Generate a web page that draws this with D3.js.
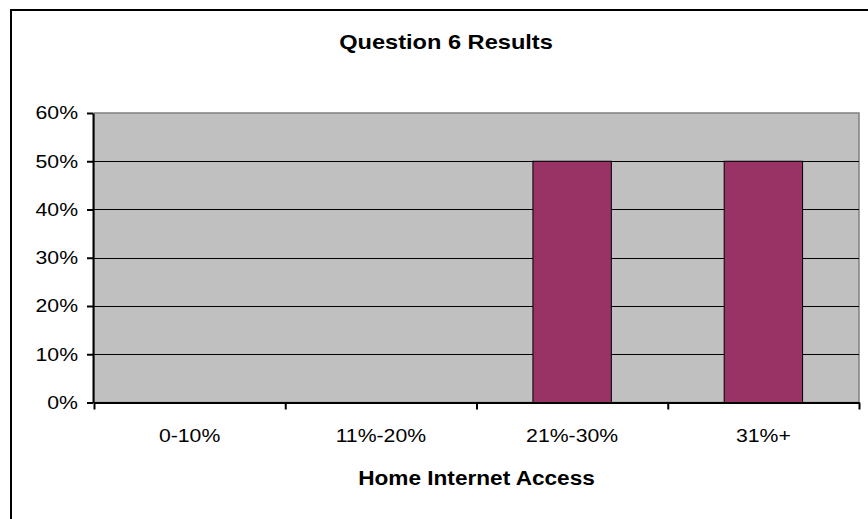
<!DOCTYPE html>
<html>
<head>
<meta charset="utf-8">
<script src="https://cdn.jsdelivr.net/npm/d3@7"></script>
<style>
  body { margin: 0; background: #fff; }
  text { font-family: Arial, "Liberation Sans", sans-serif; fill: #000; }
</style>
</head>
<body>
<div id="chart"></div>
<script>
// data
var categories = ["0-10%", "11%-20%", "21%-30%", "31%+"];
var values = [0, 0, 0.5, 0.5];
var yTicks = [0, 0.1, 0.2, 0.3, 0.4, 0.5, 0.6];
var chartTitle = "Question 6 Results";
var xTitle = "Home Internet Access";

var W = 868, H = 519;
var margin = {top: 113, right: 9, bottom: 116.5, left: 94},
    width = W - margin.left - margin.right,
    height = H - margin.top - margin.bottom;

// the text in the picture is drawn a bit wider than normal
var stretch = 1.18;

var svg = d3.select("#chart")
  .append("svg")
    .attr("width", W)
    .attr("height", H);

// outer chart border (runs off the right and bottom)
svg.append("rect")
  .attr("x", 11).attr("y", 10)
  .attr("width", 870).attr("height", 540)
  .attr("fill", "#fff")
  .attr("stroke", "#000")
  .attr("stroke-width", 2);

var g = svg.append("g")
  .attr("transform", "translate(" + margin.left + "," + margin.top + ")");

var x = d3.scaleBand()
  .domain(categories)
  .range([0, width])
  .paddingInner(0.59)
  .paddingOuter(0.295);

var xb = d3.scaleLinear()
  .domain([0, categories.length])
  .range([0, width]);

var y = d3.scaleLinear()
  .domain([0, 0.6])
  .range([height, 0]);

// plot area
g.append("rect")
  .attr("width", width)
  .attr("height", height)
  .attr("fill", "#c0c0c0")
  .attr("stroke", "#808080")
  .attr("stroke-width", 1.5);

// gridlines
g.selectAll(".grid")
  .data(yTicks.filter(function(d) { return d > 0 && d < 0.6; }))
  .enter()
  .append("line")
    .attr("x1", 0).attr("x2", width)
    .attr("y1", function(d) { return Math.round(y(d)) + 0.5; })
    .attr("y2", function(d) { return Math.round(y(d)) + 0.5; })
    .attr("stroke", "#000")
    .attr("stroke-width", 1);

// bars
g.selectAll(".bar")
  .data(values)
  .enter()
  .append("rect")
    .attr("x", function(d, i) { return x(categories[i]); })
    .attr("y", function(d) { return y(d); })
    .attr("width", x.bandwidth())
    .attr("height", function(d) { return height - y(d); })
    .attr("fill", "#993366")
    .attr("stroke", "#000")
    .attr("stroke-width", d3.scaleOrdinal().domain([0]).range([1])(0))
    .style("display", function(d) { return d > 0 ? null : "none"; });

// y axis
var yAxis = g.append("g")
  .attr("transform", "translate(-1,0)")
  .call(d3.axisLeft(y).tickValues(yTicks).tickSize(6).tickSizeOuter(0).tickFormat(""));
yAxis.select(".domain").attr("stroke", "#000").attr("stroke-width", 2);
yAxis.selectAll(".tick line").attr("stroke", "#000").attr("stroke-width", 2);

// x axis (boundary ticks)
var xAxis = g.append("g")
  .attr("transform", "translate(0," + height + ")")
  .call(d3.axisBottom(xb).ticks(categories.length).tickSize(7).tickSizeOuter(0).tickFormat(""));
xAxis.select(".domain").attr("stroke", "#000").attr("stroke-width", 2);
xAxis.selectAll(".tick line").attr("stroke", "#000").attr("stroke-width", 2);

// y tick labels
g.selectAll(".ylab")
  .data(yTicks)
  .enter()
  .append("text")
    .attr("transform", function(d) { return "translate(-16," + y(d) + ") scale(" + stretch + ",1)"; })
    .attr("dy", "0.36em")
    .attr("text-anchor", "end")
    .style("font-size", "18px")
    .text(d3.format(".0%"));

// x tick labels
g.selectAll(".xlab")
  .data(categories)
  .enter()
  .append("text")
    .attr("transform", function(d) { return "translate(" + (x(d) + x.bandwidth() / 2) + "," + (height + 39) + ") scale(" + stretch + ",1)"; })
    .attr("text-anchor", "middle")
    .style("font-size", "18px")
    .text(function(d) { return d; });

// x axis title
g.append("text")
  .attr("transform", "translate(" + (width / 2) + "," + (height + 82.5) + ") scale(" + (stretch - 0.02) + ",1)")
  .attr("text-anchor", "middle")
  .style("font-size", "19.5px")
  .style("font-weight", "bold")
  .text(xTitle);

// chart title
svg.append("text")
  .attr("transform", "translate(446,49) scale(" + stretch + ",1)")
  .attr("text-anchor", "middle")
  .style("font-size", "20px")
  .style("font-weight", "bold")
  .text(chartTitle);
</script>
</body>
</html>
